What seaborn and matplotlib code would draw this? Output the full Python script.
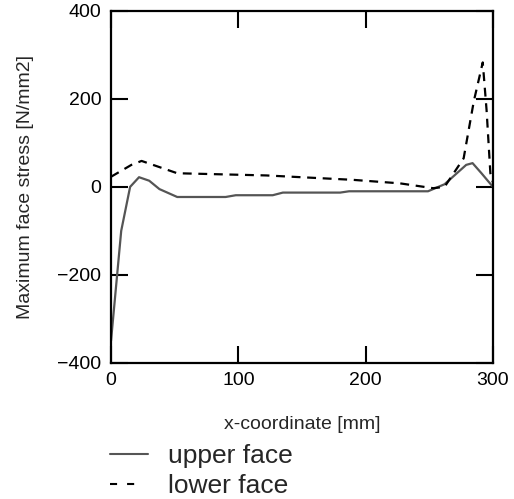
import matplotlib
matplotlib.use('Agg')
import matplotlib.pyplot as plt
import seaborn as sns
from matplotlib.lines import Line2D

# stress along the face
upper_x = [0, 8, 15, 22, 30, 38, 52, 90, 98, 127, 135, 180, 187, 249, 262, 279, 284, 291, 300]
upper_y = [-350, -100, 0, 22, 14, -5, -23, -23, -19, -19, -13, -13, -10, -10, 6, 50, 54, 31, 0]

lower_x = [0, 16, 24, 52, 122, 190, 227, 253, 262, 277, 285, 292, 295, 298, 300]
lower_y = [23, 50, 59, 31, 26, 16, 8, -3, 0, 65, 195, 283, 175, 31, 10]

x_ticks = [0, 100, 200, 300]
y_ticks = [-400, -200, 0, 200, 400]

sns.set_style('ticks')
plt.rcParams['font.family'] = ['Liberation Sans', 'DejaVu Sans']

fig = plt.figure(figsize=(5.14, 4.99), dpi=100)
ax = fig.add_axes([0.216, 0.273, 0.743, 0.705])

upper_color = '#555555'
sns.lineplot(x=upper_x, y=upper_y, ax=ax, color=upper_color, lw=1.6, sort=False)
sns.lineplot(x=lower_x, y=lower_y, ax=ax, color='black', lw=1.6, sort=False,
             dashes=False)
ax.lines[-1].set_dashes((4, 3))

ax.set_xlim(0, 300)
ax.set_ylim(-400, 400)
ax.set_xticks(x_ticks)
ax.set_yticks(y_ticks)
ax.tick_params(direction='in', length=12, width=1.5, labelsize=14, pad=7,
               top=True, right=True, colors='black')
for s in ax.spines.values():
    s.set_linewidth(1.6)
    s.set_color('black')

ax.set_xlabel('x-coordinate [mm]', fontsize=14, labelpad=19)
ax.set_ylabel('Maximum face stress [N/mm2]', fontsize=14, labelpad=17)

handles = [Line2D([], [], color=upper_color, lw=1.5),
           Line2D([], [], color='black', lw=1.5, dashes=(3.4, 4.8, 3.4, 20))]
fig.legend(handles, ['upper face', 'lower face'], loc='upper left',
           bbox_to_anchor=(0.214, 0.11), frameon=False, fontsize=19,
           handlelength=1.45, handletextpad=0.75, labelspacing=0.22,
           borderpad=0, borderaxespad=0)

fig.savefig('out.png', dpi=100)
